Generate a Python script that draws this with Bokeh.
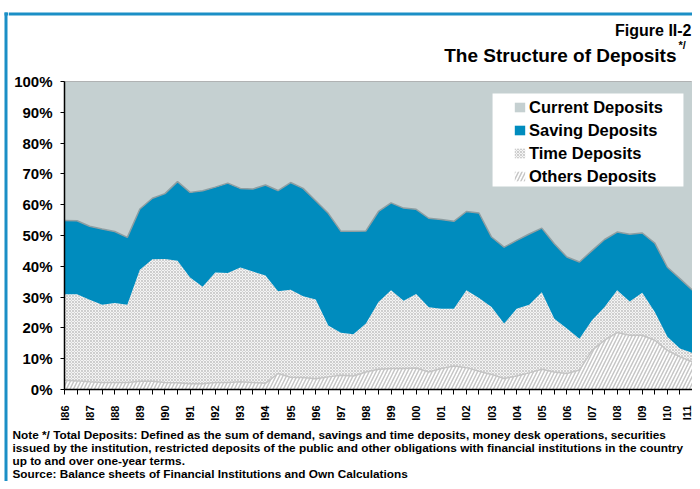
import numpy as np
import pandas as pd
from bokeh.plotting import figure
from bokeh.layouts import column, row
from bokeh.models import (Range1d, FixedTicker, Legend, LegendItem,
                          BoxAnnotation, ColumnDataSource)
from bokeh.embed import file_html
from bokeh.resources import INLINE
from bokeh.core.properties import value

# ---------------- data (percent of total deposits, semiannual) ----------------
years = ["86", "87", "88", "89", "90", "91", "92", "93", "94", "95", "96", "97", "98",
         "99", "00", "01", "02", "03", "04", "05", "06", "07", "08", "09", "10", "11"]
periods = []
for k, yy in enumerate(years):
    periods.append("I" + yy)
    if k < len(years) - 1:
        periods.append("II" + yy)

others_dep = [3.0, 2.8, 2.5, 2.3, 2.3, 2.3, 2.7, 2.7, 2.3, 2.2, 1.9, 1.9, 2.3, 2.3, 2.5, 2.3, 2.0,
              5.2, 4.0, 3.9, 3.5, 4.1, 4.6, 4.4, 5.7, 6.6, 6.8, 6.8, 7.0, 5.7, 6.8, 7.6, 7.1,
              5.9, 4.9, 3.6, 4.4, 5.4, 6.6, 5.7, 5.2, 6.3, 12.7, 16.0, 18.5, 17.6, 17.6, 16.0,
              12.7, 10.6, 9.0]
time_dep = [27.9, 28.1, 26.6, 25.2, 25.8, 25.2, 36.2, 39.6, 40.1, 39.6, 34.5, 31.5, 35.7, 35.5,
            37.1, 36.0, 35.0, 26.7, 28.4, 26.4, 25.7, 16.7, 13.8, 13.5, 15.7, 21.8, 25.4, 22.0,
            24.0, 21.0, 19.4, 18.6, 25.1, 23.8, 21.9, 17.8, 21.8, 22.1, 25.0, 17.3, 14.6, 10.2,
            9.8, 10.8, 13.7, 11.0, 13.8, 9.2, 4.4, 2.7, 2.9]
saving_dep = [24.0, 23.9, 23.9, 24.6, 23.2, 21.9, 19.7, 19.8, 21.2, 25.7, 27.6, 31.1, 27.7, 29.2,
              25.7, 26.8, 29.4, 32.7, 34.8, 35.0, 32.1, 36.4, 33.0, 33.5, 30.1, 29.4, 28.4, 30.1,
              27.5, 28.9, 29.0, 28.4, 25.6, 27.6, 22.7, 24.8, 22.2, 23.0, 20.8, 24.3, 23.2, 24.9,
              22.6, 21.9, 18.9, 21.8, 19.4, 22.3, 22.6, 22.7, 20.3]
current_dep = [45.1, 45.2, 47.0, 47.9, 48.7, 50.6, 41.4, 37.9, 36.4, 32.5, 36.0, 35.5, 34.3, 33.0,
               34.7, 34.9, 33.6, 35.4, 32.8, 34.7, 38.7, 42.8, 48.6, 48.6, 48.5, 42.2, 39.4, 41.1,
               41.5, 44.4, 44.8, 45.4, 42.2, 42.7, 50.5, 53.8, 51.6, 49.5, 47.6, 52.7, 57.0, 58.6,
               54.9, 51.3, 48.9, 49.6, 49.2, 52.5, 60.3, 64.0, 67.8]
y_ticks = [0, 10, 20, 30, 40, 50, 60, 70, 80, 90, 100]

fig_label = "Figure II-2"
title_text = "The Structure of Deposits"
title_sup = "*/"
notes = ["Note */ Total Deposits:  Defined as the sum of demand, savings and time deposits, money desk operations, securities",
         "issued by the institution, restricted deposits of the public and other obligations with financial institutions in the country",
         "up to and over one-year terms.",
         "Source: Balance sheets of Financial Institutions and Own Calculations"]

# ---------------- stacking ----------------
df = pd.DataFrame({"others": others_dep, "time": time_dep,
                   "saving": saving_dep, "current": current_dep})
df["x"] = np.arange(len(periods))
df["c0"] = 0.0
df["c1"] = df["others"]
df["c2"] = df["c1"] + df["time"]
df["c3"] = df["c2"] + df["saving"]
df["c4"] = df["c3"] + df["current"]
src = ColumnDataSource(df)

FONT = "Liberation Sans"
C_CURRENT = "#c5d0d1"
C_SAVING = "#008cbe"
C_FRAME = "#1b8fc6"

W_STRIP = 8
W_MAIN = 684
H_TOP = 66
H_MAIN = 358
H_BOT = 57
H_ALL = H_TOP + H_MAIN + H_BOT
BASE_SHIFT = 0.33   # text baseline correction (fraction of font size)


def blank_fig(w, h):
    f = figure(width=w, height=h, output_backend="svg", toolbar_location=None,
               x_range=Range1d(0, w), y_range=Range1d(h, 0),
               x_axis_location=None, y_axis_location=None,
               min_border=0, min_border_left=0, min_border_right=0,
               min_border_top=0, min_border_bottom=0)
    f.outline_line_color = None
    f.background_fill_color = "white"
    f.border_fill_color = "white"
    f.grid.visible = False
    return f


def put_text(f, xs, ys, texts, size, align):
    f.text(x=xs, y=[y - BASE_SHIFT * size for y in ys], text=texts, text_font=value(FONT),
           text_font_style="bold", text_font_size=value(f"{size}px"), text_align=align,
           text_baseline="alphabetic", text_color="black")


# ---------------- left strip (blue page frame) ----------------
strip = blank_fig(W_STRIP, H_ALL)
strip.quad(left=[4], right=[7], top=[12], bottom=[H_ALL], fill_color=C_FRAME, line_color=None)
strip.quad(left=[4], right=[8], top=[12], bottom=[15], fill_color=C_FRAME, line_color=None)

# ---------------- title area ----------------
top = blank_fig(W_MAIN, H_TOP)
top.quad(left=[0], right=[W_MAIN], top=[12], bottom=[15], fill_color=C_FRAME, line_color=None)
put_text(top, [683], [35], [fig_label], 16, "right")
put_text(top, [668], [61], [title_text], 19, "right")
put_text(top, [670], [48], [title_sup], 11, "left")

# ---------------- main chart ----------------
p = figure(width=W_MAIN, height=H_MAIN, output_backend="svg", toolbar_location=None,
           x_range=Range1d(0, len(periods) - 1), y_range=Range1d(0, 100),
           min_border_left=56, min_border_right=0, min_border_top=15, min_border_bottom=35)
p.background_fill_color = "white"
p.border_fill_color = "white"
p.outline_line_color = "#a8a8a8"
p.outline_line_width = 1
p.xgrid.visible = False
p.ygrid.visible = False

r_oth = p.varea(x="x", y1="c0", y2="c1", source=src, fill_color="white",
                hatch_pattern="right_diagonal_line", hatch_scale=7, hatch_weight=1.5,
                hatch_color="#c6c6c6")
r_time = p.varea(x="x", y1="c1", y2="c2", source=src, fill_color="#f4f4f4",
                 hatch_pattern="diagonal_cross", hatch_scale=3, hatch_weight=0.8,
                 hatch_color="#c4c4c4")
r_sav = p.varea(x="x", y1="c2", y2="c3", source=src, fill_color=C_SAVING)
r_cur = p.varea(x="x", y1="c3", y2="c4", source=src, fill_color=C_CURRENT)
p.line(x="x", y="c3", source=src, line_color="#8e9ea2", line_width=1.5)
p.line(x="x", y="c1", source=src, line_color="#c4c4c4", line_width=1.5)

p.xaxis.ticker = FixedTicker(ticks=list(range(len(periods))))
p.xaxis.major_label_overrides = {i: (lab if not lab.startswith("II") else "")
                                 for i, lab in enumerate(periods)}
p.xaxis.major_label_orientation = np.pi / 2
p.xaxis.major_label_text_font = FONT
p.xaxis.major_label_text_font_style = "bold"
p.xaxis.major_label_text_font_size = "11px"
p.xaxis.major_label_text_color = "black"
p.xaxis.major_label_standoff = 11
p.xaxis.minor_tick_line_color = None
p.xaxis.major_tick_in = 0
p.xaxis.major_tick_out = 5
p.xaxis.major_tick_line_color = "black"
p.xaxis.axis_line_color = "black"
p.xaxis.axis_line_width = 1.5

p.yaxis.ticker = FixedTicker(ticks=y_ticks)
p.yaxis.major_label_overrides = {v: f"{v}%" for v in y_ticks}
p.yaxis.major_label_text_font = FONT
p.yaxis.major_label_text_font_style = "bold"
p.yaxis.major_label_text_font_size = "15px"
p.yaxis.major_label_text_color = "black"
p.yaxis.major_label_standoff = 8
p.yaxis.minor_tick_line_color = None
p.yaxis.major_tick_in = 0
p.yaxis.major_tick_out = 4
p.yaxis.major_tick_line_color = "black"
p.yaxis.axis_line_color = "black"
p.yaxis.axis_line_width = 1.5

# legend: white box behind a transparent legend
p.add_layout(BoxAnnotation(left=34.08, right=49.28, bottom=65.9, top=96.1,
                           fill_color="white", fill_alpha=1.0, line_color=None,
                           level="annotation"))
legend = Legend(items=[LegendItem(label="Current Deposits", renderers=[r_cur]),
                       LegendItem(label="Saving Deposits", renderers=[r_sav]),
                       LegendItem(label="Time Deposits", renderers=[r_time]),
                       LegendItem(label="Others Deposits", renderers=[r_oth])],
                location=(449, 203), orientation="vertical",
                background_fill_alpha=0.0, border_line_alpha=0.0,
                padding=0, margin=0, spacing=3, label_height=20,
                glyph_width=13, glyph_height=12, label_standoff=3,
                label_text_font=FONT, label_text_font_style="bold",
                label_text_font_size="16.5px", label_text_color="black")
p.add_layout(legend)

# ---------------- notes area ----------------
bot = blank_fig(W_MAIN, H_BOT)
put_text(bot, [4] * len(notes), [14.5, 27.5, 40.5, 53.5], notes, 11.8, "left")

layout = row(strip, column(row(top), row(p), row(bot), spacing=0), spacing=0)
open("out.html", "w").write(file_html(layout, INLINE))
